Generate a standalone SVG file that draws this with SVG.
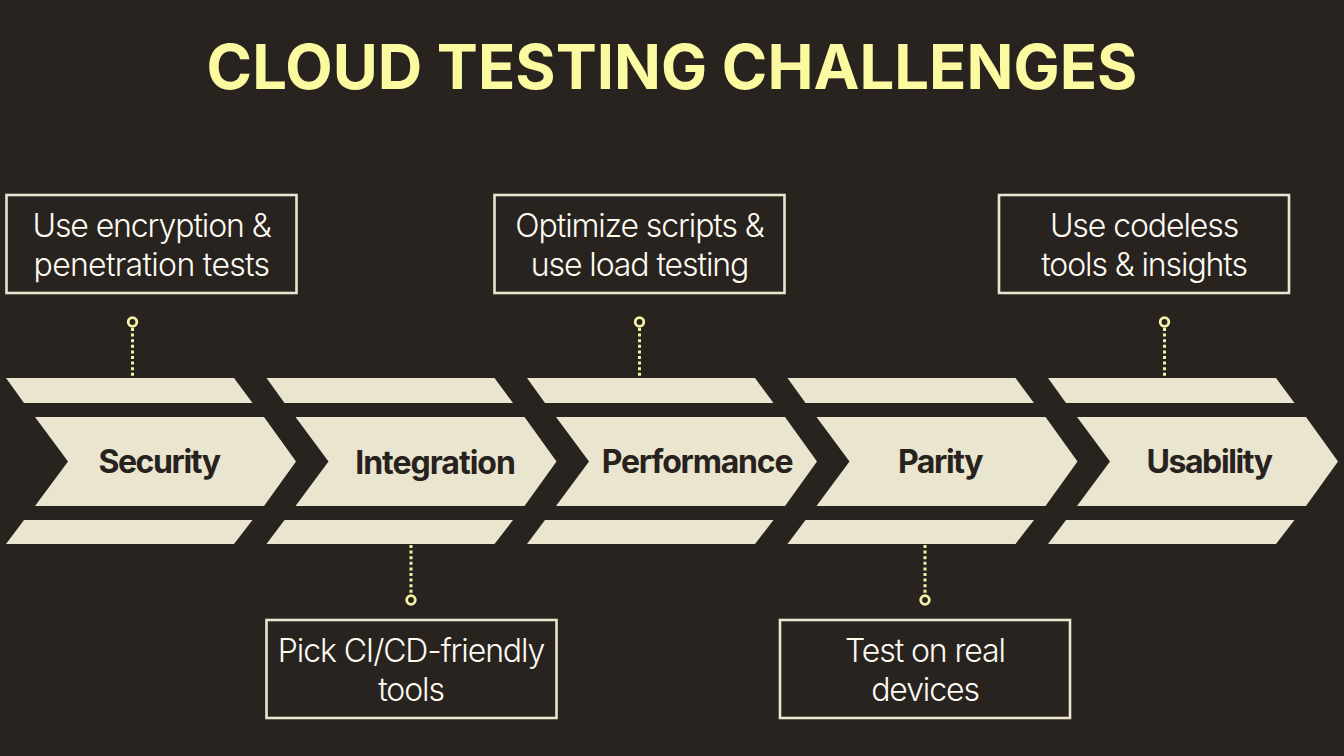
<svg xmlns="http://www.w3.org/2000/svg" width="1344" height="756" viewBox="0 0 1344 756">
<style>
.bar{fill:#e9e5cf}
.box{fill:none;stroke:#e9e5cf;stroke-width:2.6}
.lbl{font-family:Inter,"Liberation Sans",sans-serif;font-size:32px;font-weight:300;fill:#fdfbf2;text-anchor:middle;letter-spacing:-1.1px}
.hd{font-family:Inter,"Liberation Sans",sans-serif;font-size:32px;font-weight:700;fill:#28221e;text-anchor:middle;letter-spacing:-1.4px}
.dot{fill:#28231f;stroke:#f3f1a6;stroke-width:2.8}
.ln{stroke:#f3f1a6;stroke-width:3;stroke-dasharray:3 2.6;fill:none}
</style>
<defs>
<g id="chev">
<polygon class="bar" points="6,378 234,378 252.500,403 24,403"/>
<polygon class="bar" points="35,417 264,417 296,461.500 264,506 35,506 68,461.500"/>
<polygon class="bar" points="24,520 252.500,520 234,544 6,544"/>
</g>
</defs>
<rect width="1344" height="756" fill="#28231f"/>
<text x="672" y="89" font-family="Inter,'Liberation Sans',sans-serif" font-size="61.600" font-weight="700" fill="#fbfaa0" text-anchor="middle">CLOUD TESTING CHALLENGES</text>
<g id="connectors">
<path class="ln" d="M132.500 328V378M411 545V595M639.500 328V378M925 545V595M1164.500 328V378"/>
</g>
<g id="security"><use href="#chev"/><text class="hd" x="159" y="473">Security</text></g>
<g id="integration"><use href="#chev" x="260.500"/><text class="hd" x="435" y="474" style="letter-spacing:-1px">Integration</text></g>
<g id="performance"><use href="#chev" x="521"/><text class="hd" x="697" y="473" style="letter-spacing:-1.2px">Performance</text></g>
<g id="parity"><use href="#chev" x="781.500"/><text class="hd" x="940" y="473">Parity</text></g>
<g id="usability"><use href="#chev" x="1042"/><text class="hd" x="1209" y="473">Usability</text></g>
<g id="note-security"><circle class="dot" cx="132.500" cy="322" r="4.300"/><rect class="box" x="6.500" y="195" width="290" height="98"/><text class="lbl" x="151.500" y="237">Use encryption &amp;</text><text class="lbl" x="151.500" y="276" style="letter-spacing:-0.7px">penetration tests</text></g>
<g id="note-performance"><circle class="dot" cx="639.500" cy="322" r="4.300"/><rect class="box" x="494.500" y="195" width="290" height="98"/><text class="lbl" x="639.500" y="237">Optimize scripts &amp;</text><text class="lbl" x="639.500" y="276">use load testing</text></g>
<g id="note-usability"><circle class="dot" cx="1164.500" cy="322" r="4.300"/><rect class="box" x="999" y="195" width="290" height="98"/><text class="lbl" x="1144" y="237">Use codeless</text><text class="lbl" x="1144" y="276">tools &amp; insights</text></g>
<g id="note-integration"><circle class="dot" cx="411" cy="600" r="4.300"/><rect class="box" x="266.500" y="620" width="290" height="98"/><text class="lbl" x="411" y="662">Pick CI/CD-friendly</text><text class="lbl" x="411" y="701">tools</text></g>
<g id="note-parity"><circle class="dot" cx="925" cy="600" r="4.300"/><rect class="box" x="780" y="620" width="290" height="98"/><text class="lbl" x="925" y="662">Test on real</text><text class="lbl" x="925" y="701">devices</text></g>
</svg>
